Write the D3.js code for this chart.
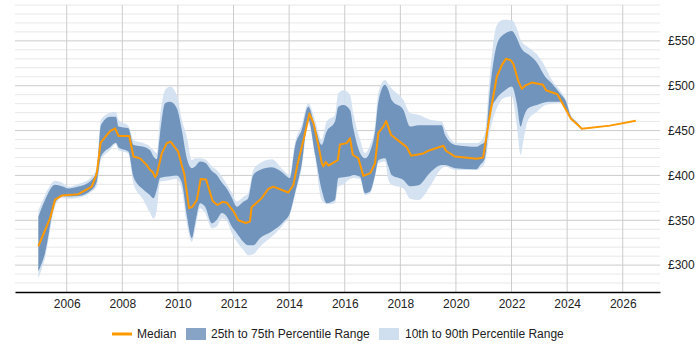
<!DOCTYPE html>
<html>
<head>
<meta charset="utf-8">
<script src="https://cdn.jsdelivr.net/npm/d3@7"></script>
<style>
  body { margin: 0; background: #fff; }
  svg { font-family: "Liberation Sans", Arial, sans-serif; font-size: 12px; }
</style>
</head>
<body>
<svg id="chart" width="700" height="350"></svg>
<script>
// median line (year, £)
var medYears = [2004.98, 2005.4, 2005.58, 2005.82, 2006.42, 2006.9, 2007.08, 2007.22, 2007.56, 2007.74,
  2007.86, 2008.25, 2008.4, 2008.64, 2008.88, 2009.0, 2009.09, 2009.18, 2009.24, 2009.42,
  2009.6, 2009.74, 2010.01, 2010.14, 2010.23, 2010.4, 2010.52, 2010.68, 2010.82, 2011.01,
  2011.25, 2011.42, 2011.61, 2011.76, 2012.0, 2012.17, 2012.44, 2012.59, 2012.65, 2013.01,
  2013.25, 2013.43, 2013.97, 2014.15, 2014.31, 2014.54, 2014.73, 2014.88, 2015.05, 2015.17,
  2015.23, 2015.32, 2015.41, 2015.75, 2015.83, 2016.07, 2016.19, 2016.29, 2016.49, 2016.67,
  2016.92, 2017.09, 2017.21, 2017.39, 2017.49, 2017.67, 2018.23, 2018.39, 2018.83, 2019.01,
  2019.55, 2019.64, 2019.97, 2020.75, 2020.98, 2021.2, 2021.47, 2021.65, 2021.8, 2021.97,
  2022.07, 2022.25, 2022.37, 2022.49, 2022.73, 2023.13, 2023.24, 2023.65, 2024.13, 2024.53,
  2025.54, 2026.47];
var median = [321, 352, 373, 377.5, 379, 387.5, 402, 436.5, 449.5, 452.5,
  444, 444, 421, 419, 411.5, 406, 404, 398, 401, 424.5,
  436, 437.5, 426.5, 411, 401.5, 363.5, 365, 372.5, 396, 395.5,
  371.5, 367, 370.5, 369.5, 360, 350, 347, 348.5, 364.5, 374.5,
  385, 387.5, 381, 389, 413.5, 442.5, 469, 458, 434, 414.5,
  410, 415, 411, 417, 434.5, 436, 441.5, 423, 419, 399.5,
  402.5, 413.5, 447.5, 454.5, 460.5, 445, 431.5, 422, 424.5, 427.5,
  433, 427.5, 421, 418.5, 420, 463.5, 510, 523, 530, 528.5,
  524, 504.5, 496.5, 500, 503.5, 501, 495, 490.5, 463.5, 452,
  455.5, 461];

// percentile bands, shared years
var bandYears = [2004.98, 2005.22, 2005.58, 2005.82, 2006.06, 2006.42, 2006.9, 2007.08, 2007.23, 2007.56,
  2007.77, 2007.86, 2008.22, 2008.4, 2008.76, 2009.0, 2009.12, 2009.24, 2009.36, 2009.54,
  2009.72, 2009.96, 2010.14, 2010.32, 2010.5, 2010.62, 2010.8, 2010.98, 2011.22, 2011.4,
  2011.58, 2011.76, 2011.94, 2012.12, 2012.35, 2012.53, 2012.71, 2012.95, 2013.37, 2013.79,
  2014.03, 2014.21, 2014.45, 2014.69, 2014.93, 2015.17, 2015.35, 2015.65, 2015.77, 2015.95,
  2016.19, 2016.31, 2016.55, 2016.73, 2016.91, 2017.09, 2017.21, 2017.45, 2017.57, 2017.69,
  2018.11, 2018.35, 2018.65, 2019.07, 2019.49, 2019.61, 2019.97, 2020.75, 2020.87, 2021.05,
  2021.23, 2021.47, 2021.71, 2022.01, 2022.19, 2022.33, 2022.42, 2022.6, 2022.91, 2023.21,
  2023.45, 2023.74, 2023.99, 2024.11, 2024.35, 2024.53];
var p90 = [361, 378, 394, 392, 387.5, 390.5, 398.5, 409, 462, 470,
  471, 462, 455, 439.5, 436, 432, 428, 425, 465.5, 495,
  499, 489.5, 462, 443, 417, 419, 419, 418, 410, 406,
  399, 390, 381, 371, 376, 380, 406, 413.5, 418, 406,
  400.5, 436, 456, 480.5, 462, 439.5, 460, 467.5, 491.5, 495,
  490, 469, 440, 425, 434, 455, 492.5, 506.5, 502, 497,
  484, 469.5, 467.5, 462, 460, 452, 436.5, 436, 437.5, 449,
  515.5, 567.5, 573.5, 573, 564, 551, 547, 543, 535, 521,
  506.5, 495, 482, 469, 460, 453];
var p75 = [354, 372.5, 389.5, 388, 385.5, 387.5, 395, 406, 456, 465.5,
  465.5, 454.5, 452.5, 434, 432, 428, 421, 418, 447, 480.5,
  482, 475, 450.5, 419, 408, 410, 415.5, 414, 405, 400.5,
  392, 385, 375, 365, 370.5, 374.5, 400.5, 406, 409, 402.5,
  397, 432, 450.5, 476.5, 454.5, 434, 449, 460, 476.5, 478.5,
  473, 452.5, 425, 419, 426.5, 449, 482, 501, 495, 484,
  473, 454.5, 456, 456, 456, 445, 434, 432, 434, 437.5,
  497, 545.5, 557, 561, 553, 543, 539, 535, 526, 510,
  502.5, 491.5, 480, 467.5, 459, 452.5];
var p25 = [293, 313, 369, 377, 376.5, 377, 384, 393, 421, 431.5,
  436.5, 431.5, 426.5, 398.5, 384, 378, 374.5, 384, 397, 398.5,
  399, 400, 392, 355, 330, 346.5, 369, 365, 346.5, 350.5,
  358, 354, 343, 335.5, 326, 322, 322, 330, 337.5, 348,
  358, 380, 412, 462, 424.5, 384, 369, 372.5, 397, 398,
  399, 400.5, 398.5, 380, 382, 400.5, 417, 419, 410, 400.5,
  395, 388, 389, 403, 411.5, 411.5, 408, 407, 411.5, 420,
  470, 486, 493.5, 499, 480, 454.5, 463.5, 475, 478.5, 481.5,
  482, 482, 472, 466, 458, 450.5];
var p10 = [285, 308, 365, 375, 374, 375, 382, 388, 417, 428,
  435, 428, 424.5, 391, 372.5, 358, 352, 361.5, 393, 394,
  395, 396, 384, 346.5, 326, 340, 363.5, 358, 341, 343,
  352, 349, 335.5, 326, 317, 311, 312, 320.5, 331.5, 345,
  356, 378, 408, 458, 421, 372.5, 368, 369, 387.5, 390,
  396, 397, 396, 378, 380, 398, 413.5, 415.5, 395, 389.5,
  385.5, 374, 372.5, 388, 408, 410, 406, 406, 408, 415,
  450, 475, 486, 488, 455, 423, 437.5, 462, 471, 478.5,
  480, 481, 471, 465, 457.5, 450.3];

var yTicks = [300, 350, 400, 450, 500, 550];
var xTicks = [2006, 2008, 2010, 2012, 2014, 2016, 2018, 2020, 2022, 2024, 2026];
var legendLabels = ["Median", "25th to 75th Percentile Range", "10th to 90th Percentile Range"];

var colMedian = "#ff9900", colDark = "#7094bc", colLight = "#cfdff0";

var svg = d3.select("#chart");
var plotL = 15, plotR = 660, plotT = 5, plotB = 292;

var x = d3.scaleLinear().domain([2004.14, 2027.34]).range([plotL, plotR]);
var y = d3.scaleLinear().domain([270, 590]).range([plotB, plotT]);

// grid
var grid = svg.append("g");
grid.selectAll("line.minor")
  .data(d3.range(280, 591, 10).filter(function(v) { return v % 50 != 0; }))
  .enter().append("line")
  .attr("x1", plotL).attr("x2", plotR)
  .attr("y1", function(d) { return y(d); }).attr("y2", function(d) { return y(d); })
  .attr("stroke", "#e8e8e8").attr("stroke-width", 1);
grid.selectAll("line.major")
  .data(yTicks)
  .enter().append("line")
  .attr("x1", plotL).attr("x2", plotR)
  .attr("y1", function(d) { return y(d); }).attr("y2", function(d) { return y(d); })
  .attr("stroke", "#cccccc").attr("stroke-width", 1);
grid.selectAll("line.vert")
  .data(xTicks)
  .enter().append("line")
  .attr("x1", function(d) { return x(d); }).attr("x2", function(d) { return x(d); })
  .attr("y1", plotT).attr("y2", plotB)
  .attr("stroke", "#cccccc").attr("stroke-width", 1);

// bands
var bands = bandYears.map(function(yr, i) {
  return {yr: yr, p10: p10[i], p25: p25[i], p75: p75[i], p90: p90[i]};
});

var outer = d3.area()
  .x(function(d) { return x(d.yr); })
  .y0(function(d) { return y(d.p10); })
  .y1(function(d) { return y(d.p90); })
  .curve(d3.curveMonotoneX);
var inner = d3.area()
  .x(function(d) { return x(d.yr); })
  .y0(function(d) { return y(d.p25); })
  .y1(function(d) { return y(d.p75); })
  .curve(d3.curveMonotoneX);

svg.append("path").datum(bands).attr("d", outer)
  .attr("fill", colLight).attr("fill-opacity", 0.9);
svg.append("path").datum(bands).attr("d", inner)
  .attr("fill", colDark);

var med = medYears.map(function(yr, i) { return {yr: yr, v: median[i]}; });
svg.append("path").datum(med)
  .attr("d", d3.line().x(function(d) { return x(d.yr); }).y(function(d) { return y(d.v); }))
  .attr("fill", "none").attr("stroke", colMedian).attr("stroke-width", 2)
  .attr("stroke-linejoin", "round");

// x axis
var xAxis = svg.append("g").attr("transform", "translate(0," + plotB + ")")
  .call(d3.axisBottom(x).tickValues(xTicks).tickFormat(d3.format("d")).tickSize(0).tickPadding(7));
xAxis.select(".domain").attr("stroke", "#000").attr("stroke-width", 1.5);
xAxis.selectAll("text").attr("fill", "#222").style("font-size", "12px")
  .style("font-family", "Liberation Sans, Arial, sans-serif");

// y axis on right
var yAxis = svg.append("g").attr("transform", "translate(" + plotR + ",0)")
  .call(d3.axisRight(y).tickValues(yTicks).tickFormat(function(d) { return "£" + d; }).tickSize(0).tickPadding(8));
yAxis.select(".domain").remove();
yAxis.selectAll("text").attr("fill", "#222").style("font-size", "12px")
  .style("font-family", "Liberation Sans, Arial, sans-serif");

// legend
var lg = svg.append("g").attr("transform", "translate(0,334)");
lg.append("line").attr("x1", 112).attr("x2", 132).attr("y1", 0).attr("y2", 0)
  .attr("stroke", colMedian).attr("stroke-width", 3);
lg.append("text").attr("x", 137).attr("y", 4).text(legendLabels[0]).attr("fill", "#222");
lg.append("rect").attr("x", 186).attr("y", -6).attr("width", 20).attr("height", 12).attr("fill", "#87a4c6");
lg.append("text").attr("x", 211).attr("y", 4).text(legendLabels[1]).attr("fill", "#222");
lg.append("rect").attr("x", 379).attr("y", -6).attr("width", 20).attr("height", 12).attr("fill", colLight);
lg.append("text").attr("x", 405).attr("y", 4).text(legendLabels[2]).attr("fill", "#222");
</script>
</body>
</html>
